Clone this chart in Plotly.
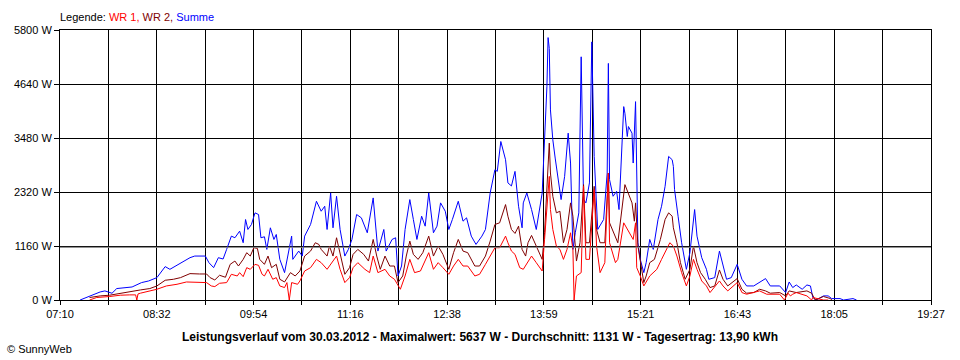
import plotly.graph_objects as go

# ---------------- data ----------------
SUM_TIME = ["07:27","07:35","07:44","07:48","07:54","07:58","08:06","08:11","08:19","08:25","08:32","08:39","08:43","08:52","08:56","09:00","09:04","09:08","09:13","09:16","09:20","09:24","09:28","09:31","09:35","09:38","09:42","09:45","09:47","09:49","09:52","09:55","09:58","10:00","10:03","10:05","10:08","10:11","10:13","10:16","10:20","10:26","10:27","10:32","10:35","10:37","10:42","10:47","10:51","10:54","10:56","10:59","11:01","11:04","11:07","11:11","11:14","11:17","11:21","11:25","11:30","11:35","11:37","11:39","11:44","11:46","11:51","11:54","11:56","11:59","12:02","12:06","12:09","12:12","12:16","12:19","12:22","12:26","12:29","12:32","12:36","12:39","12:42","12:47","12:51","12:54","12:58","13:02","13:07","13:10","13:14","13:18","13:20","13:23","13:27","13:29","13:32","13:35","13:38","13:41","13:42","13:45","13:49","13:53","13:58","14:00","14:02","14:03","14:04","14:05","14:07","14:09","14:12","14:14","14:17","14:20","14:22","14:24","14:26","14:29","14:31","14:33","14:35","14:38","14:40","14:42","14:45","14:50","14:53","14:54","14:55","14:58","15:01","15:03","15:07","15:08","15:10","15:11","15:14","15:15","15:17","15:18","15:19","15:21","15:24","15:26","15:29","15:32","15:36","15:39","15:42","15:45","15:48","15:49","15:50","15:53","15:56","16:00","16:03","16:07","16:09","16:13","16:17","16:19","16:24","16:28","16:31","16:34","16:38","16:43","16:47","16:51","16:57","17:02","17:07","17:11","17:19","17:24","17:27","17:30","17:33","17:38","17:42","17:45","17:47","17:50","17:56","18:00","18:03","18:10","18:13","18:21","18:24"]
SUM_W = [0,88,173,195,145,246,267,280,374,409,481,717,659,788,837,909,944,937,944,802,695,909,880,1087,1372,1337,1479,1230,1729,1515,1622,1872,1836,1337,1358,1087,1551,1301,1408,873,588,1372,873,1051,944,1372,1622,2121,1907,2014,1515,2300,1551,2228,1515,944,1087,1301,1836,1765,1444,2193,1658,1051,1515,1051,1301,1337,516,730,1515,2157,1729,1301,1800,1586,2300,1444,1586,2086,1907,1515,1729,2121,1693,1765,1372,1194,1372,1515,2300,2799,2763,3405,3013,2515,2450,2763,2014,1551,2086,2300,1943,1515,2300,3298,4582,5637,5404,4083,3441,3049,2442,2157,2656,3584,2942,1087,1444,1872,5224,2157,2086,2515,5545,3084,1515,1729,2728,5082,2585,2228,2335,1943,4154,4012,3512,3726,3584,2942,4261,2228,1230,873,588,802,1301,1087,1729,2014,2442,3084,3013,2870,2371,1800,1230,659,1016,1943,1372,909,659,445,481,1051,730,445,481,766,445,302,302,374,460,302,302,160,387,267,323,231,323,302,53,0,88,88,30,30,0,30,0]

WR2_TIME = ["07:35","07:44","07:52","08:01","08:09","08:18","08:26","08:32","08:39","08:46","08:52","09:00","09:08","09:14","09:17","09:21","09:25","09:30","09:34","09:38","09:41","09:45","09:48","09:51","09:54","09:57","09:59","10:03","10:06","10:09","10:13","10:16","10:20","10:23","10:25","10:29","10:33","10:37","10:42","10:46","10:49","10:51","10:56","10:58","11:01","11:04","11:07","11:11","11:15","11:18","11:22","11:27","11:31","11:35","11:38","11:41","11:45","11:49","11:53","11:56","12:00","12:03","12:06","12:09","12:13","12:17","12:22","12:26","12:30","12:34","12:39","12:43","12:47","12:51","12:55","13:01","13:05","13:10","13:14","13:18","13:22","13:27","13:29","13:32","13:35","13:38","13:41","13:44","13:46","13:49","13:53","13:58","14:00","14:02","14:04","14:05","14:07","14:10","14:13","14:16","14:19","14:22","14:24","14:27","14:30","14:33","14:35","14:38","14:42","14:44","14:47","14:51","14:54","14:55","15:00","15:02","15:08","15:11","15:14","15:16","15:17","15:19","15:21","15:24","15:26","15:29","15:33","15:38","15:42","15:45","15:48","15:49","15:52","15:55","15:59","16:03","16:06","16:09","16:12","16:16","16:20","16:24","16:28","16:31","16:35","16:39","16:43","16:47","16:51","16:57","17:02","17:07","17:11","17:19","17:24","17:27","17:33","17:42","17:46","17:49","17:56","18:02","18:03"]
WR2_W = [53,88,103,146,173,216,246,302,424,445,481,567,559,559,481,430,531,488,766,837,730,873,1016,944,1123,1109,873,766,944,695,766,445,387,516,588,516,623,944,1051,1230,1194,1087,944,1158,944,1337,1016,552,695,980,1087,980,837,1301,944,659,944,730,730,374,516,944,1265,980,873,1016,1372,944,1158,980,659,1016,1301,1051,1016,730,730,944,1265,1622,1658,2050,1800,1515,1430,1586,1087,944,1230,1387,1158,873,1444,2585,3370,2728,2228,1872,1907,1230,1515,2086,1800,837,1230,2478,1230,1230,2442,1515,1230,1230,2728,1658,1372,1230,2478,2300,2086,1693,2086,1158,802,374,516,802,873,1301,1729,1872,1800,1551,1230,802,445,659,1158,802,588,445,267,302,645,445,302,374,460,231,146,160,231,195,146,160,88,195,160,195,146,0,75,30,0]

WR1_TIME = ["07:35","07:41","07:52","08:01","08:09","08:14","08:15","08:16","08:18","08:26","08:32","08:40","08:49","08:57","09:08","09:14","09:18","09:21","09:25","09:31","09:35","09:40","09:42","09:45","09:48","09:51","09:55","09:58","10:01","10:03","10:06","10:10","10:13","10:16","10:20","10:22","10:24","10:26","10:31","10:33","10:37","10:42","10:47","10:51","10:56","11:00","11:04","11:07","11:11","11:15","11:18","11:22","11:28","11:32","11:35","11:39","11:45","11:49","11:53","11:58","12:02","12:06","12:10","12:15","12:22","12:26","12:30","12:34","12:39","12:43","12:47","12:51","12:55","13:01","13:05","13:10","13:14","13:18","13:22","13:27","13:29","13:32","13:35","13:39","13:42","13:46","13:49","13:53","13:58","14:00","14:03","14:04","14:05","14:07","14:10","14:13","14:16","14:19","14:22","14:24","14:25","14:27","14:31","14:33","14:35","14:38","14:42","14:44","14:47","14:51","14:54","14:55","15:00","15:02","15:07","15:10","15:12","15:15","15:17","15:18","15:21","15:24","15:29","15:35","15:39","15:43","15:46","15:49","15:52","15:56","16:00","16:03","16:06","16:09","16:13","16:17","16:20","16:28","16:31","16:35","16:43","16:47","16:51","17:02","17:08","17:19","17:23","17:26","17:28","17:30","17:33","17:42","17:46","17:47","17:56","18:00"]
WR1_W = [0,53,75,103,110,110,0,130,146,195,231,302,338,387,387,374,302,288,359,374,552,516,588,502,695,659,766,745,552,516,659,445,481,302,267,374,0,374,338,409,623,695,873,802,659,802,944,659,374,481,695,802,659,588,944,588,659,516,445,231,516,873,588,623,1016,659,802,695,552,730,873,730,730,516,552,766,944,1123,1123,1372,1230,1051,980,695,659,837,944,802,623,1301,2371,2656,1943,1515,1158,1087,873,1087,1444,1087,0,516,588,2442,873,873,2371,1158,588,802,2728,1230,802,873,1658,1515,1444,1301,1658,695,516,302,516,659,873,1087,1230,1158,944,588,302,516,873,659,409,302,160,409,302,195,374,160,124,195,124,124,0,146,88,124,160,88,0,53,0,0]

AVG_W = 1131  # Durchschnitt

X_TICK_LABELS = ["07:10","08:32","09:54","11:16","12:38","13:59","15:21","16:43","18:05","19:27"]
Y_TICKS = [0, 1160, 2320, 3480, 4640, 5800]

T_START, T_END = 7 * 60 + 10, 19 * 60 + 27


def to_min(s):
    h, m = s.split(":")
    return int(h) * 60 + int(m)


fig = go.Figure()
series = [
    ("Summe", SUM_TIME, SUM_W, "#0000FF"),
    ("WR 2", WR2_TIME, WR2_W, "#800000"),
    ("WR 1", WR1_TIME, WR1_W, "#FF0000"),
]
for name, t, w, col in series:
    fig.add_trace(go.Scatter(
        x=[to_min(s) for s in t], y=w, mode="lines", name=name,
        line=dict(color=col, width=1), hoverinfo="skip", showlegend=False,
    ))

fig.add_hline(y=AVG_W, line_color="#808080", line_width=1, layer="above")

# x gridlines: every half of a label interval
n_int = (len(X_TICK_LABELS) - 1) * 2
step = (T_END - T_START) / n_int
xt_vals = [T_START + i * step for i in range(n_int + 1)]
xt_text = []
for i in range(n_int + 1):
    xt_text.append(X_TICK_LABELS[i // 2] if i % 2 == 0 else "")

font = "Liberation Sans, Arial, sans-serif"

fig.update_layout(
    width=960, height=360,
    margin=dict(l=60, r=29, t=30, b=60),
    paper_bgcolor="white", plot_bgcolor="white",
    font=dict(family=font, size=11, color="black"),
    xaxis=dict(
        range=[T_START, T_END], tickmode="array", tickvals=xt_vals, ticktext=xt_text,
        showgrid=True, gridcolor="black", gridwidth=1,
        showline=True, linecolor="black", linewidth=1, mirror=True,
        ticks="outside", ticklen=4, tickcolor="black", zeroline=False,
    ),
    yaxis=dict(
        range=[0, 5800], tickmode="array", tickvals=Y_TICKS,
        ticktext=[f"{v} W" for v in Y_TICKS],
        showgrid=True, gridcolor="black", gridwidth=1,
        showline=True, linecolor="black", linewidth=1, mirror=True,
        ticks="outside", ticklen=5, tickcolor="black", zeroline=False,
    ),
    annotations=[
        dict(xref="paper", yref="paper", x=-0.002, y=1.048, xanchor="left", yanchor="middle",
             showarrow=False, font=dict(size=11, family=font),
             text="Legende: <span style='color:#FF0000'>WR 1,</span> "
                  "<span style='color:#800000'>WR 2,</span> "
                  "<span style='color:#0000FF'>Summe</span>"),
        dict(xref="paper", yref="paper", x=(480 - 60) / 871, y=-0.137, xanchor="center", yanchor="middle",
             showarrow=False, font=dict(size=12, family=font),
             text="<b>Leistungsverlauf vom 30.03.2012 - Maximalwert: 5637 W - Durchschnitt: 1131 W - Tagesertrag: 13,90 kWh</b>"),
        dict(xref="paper", yref="paper", x=-0.0631, y=-0.181, xanchor="left", yanchor="middle",
             showarrow=False, font=dict(size=11, family=font), text="© SunnyWeb"),
    ],
)

fig.write_html("out.html", config={"displayModeBar": False},
               post_script="document.body.style.margin='0';document.body.style.padding='0';")
